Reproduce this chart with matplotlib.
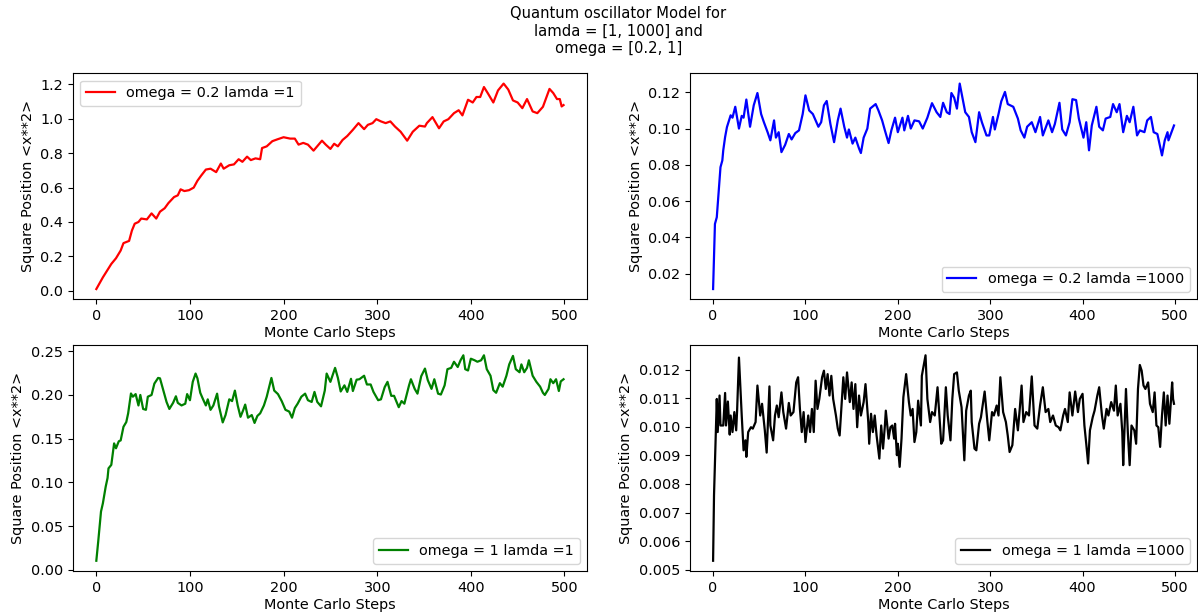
import matplotlib
matplotlib.use("Agg")
import matplotlib.pyplot as plt
from matplotlib.ticker import MultipleLocator

plt.rcParams["font.size"] = 10.4

# values (step, <x**2>)
red_steps = [0, 7, 16, 21, 26, 29, 35, 38, 41, 45, 48, 54, 59, 64, 68, 73, 77, 83, 87, 90,
             94, 99, 104, 108, 112, 117, 122, 128, 133, 136, 142, 147, 152, 156, 161, 165,
             170, 175, 177, 182, 188, 193, 200, 207, 212, 216, 221, 226, 232, 241, 245, 250,
             254, 258, 263, 268, 274, 280, 286, 290, 295, 299, 304, 309, 314, 319, 325, 332,
             338, 345, 351, 353, 359, 366, 371, 376, 382, 387, 391, 397, 402, 406, 410, 414,
             418, 424, 429, 435, 440, 445, 450, 455, 460, 466, 471, 477, 484, 488, 492, 495,
             497, 499]
red_vals = [0.01, 0.078, 0.156, 0.189, 0.234, 0.277, 0.29, 0.35, 0.39, 0.40, 0.42, 0.415,
            0.45, 0.42, 0.46, 0.48, 0.51, 0.545, 0.555, 0.59, 0.58, 0.585, 0.60, 0.64, 0.67,
            0.705, 0.71, 0.69, 0.74, 0.71, 0.73, 0.735, 0.765, 0.75, 0.78, 0.76, 0.77, 0.765,
            0.83, 0.84, 0.87, 0.88, 0.893, 0.885, 0.885, 0.85, 0.86, 0.85, 0.815, 0.873, 0.85,
            0.825, 0.855, 0.84, 0.877, 0.90, 0.936, 0.975, 0.94, 0.965, 0.975, 0.998, 0.985,
            0.975, 0.985, 0.955, 0.925, 0.873, 0.925, 0.96, 0.955, 0.975, 1.01, 0.945, 0.985,
            0.998, 1.033, 1.05, 1.02, 1.111, 1.095, 1.127, 1.127, 1.185, 1.15, 1.095, 1.165,
            1.205, 1.17, 1.107, 1.095, 1.062, 1.115, 1.043, 1.033, 1.07, 1.174, 1.15, 1.115,
            1.115, 1.072, 1.08]

blue_steps = [0, 2, 4, 8, 10, 11, 13, 15, 19, 21, 24, 28, 31, 33, 36, 39, 40, 44, 48, 52,
              55, 59, 62, 66, 68, 71, 74, 78, 82, 85, 89, 93, 97, 100, 104, 108, 111, 114,
              117, 120, 123, 127, 131, 135, 138, 142, 145, 147, 151, 154, 158, 160, 163, 167,
              170, 176, 179, 183, 186, 190, 193, 197, 200, 205, 207, 211, 214, 218, 223, 227,
              232, 237, 242, 246, 249, 253, 256, 258, 261, 264, 267, 270, 273, 277, 280, 284,
              288, 291, 296, 299, 303, 305, 309, 312, 316, 319, 325, 330, 333, 337, 340, 345,
              349, 354, 357, 361, 363, 367, 370, 375, 378, 382, 386, 389, 393, 396, 401, 404,
              407, 410, 415, 418, 422, 425, 430, 433, 437, 440, 444, 448, 451, 455, 459, 462,
              467, 470, 474, 477, 481, 484, 486, 489, 492, 493, 499]
blue_vals = [0.0115, 0.0474, 0.0511, 0.0787, 0.0824, 0.088, 0.0953, 0.1008, 0.1073, 0.106,
             0.112, 0.100, 0.107, 0.106, 0.116, 0.1045, 0.101, 0.1128, 0.1196, 0.108, 0.1035,
             0.098, 0.0935, 0.1045, 0.095, 0.098, 0.087, 0.091, 0.097, 0.094, 0.0975, 0.099,
             0.108, 0.1183, 0.110, 0.108, 0.1045, 0.101, 0.1035, 0.1128, 0.1152, 0.1025,
             0.0925, 0.1045, 0.111, 0.101, 0.095, 0.0995, 0.0917, 0.095, 0.089, 0.0865, 0.095,
             0.100, 0.111, 0.1135, 0.110, 0.1045, 0.099, 0.092, 0.099, 0.106, 0.098, 0.106,
             0.099, 0.107, 0.100, 0.1045, 0.104, 0.100, 0.106, 0.114, 0.109, 0.1064, 0.1142,
             0.109, 0.108, 0.1196, 0.117, 0.111, 0.1248, 0.117, 0.109, 0.1064, 0.098, 0.0925,
             0.109, 0.1035, 0.0962, 0.0962, 0.1064, 0.0995, 0.108, 0.115, 0.1202, 0.1135,
             0.112, 0.1055, 0.099, 0.095, 0.101, 0.1035, 0.098, 0.1064, 0.0962, 0.1017, 0.1045,
             0.098, 0.1025, 0.1142, 0.0995, 0.0962, 0.1035, 0.1162, 0.1157, 0.1055, 0.095,
             0.1035, 0.088, 0.1017, 0.112, 0.101, 0.099, 0.1055, 0.1064, 0.1135, 0.109, 0.1135,
             0.098, 0.107, 0.1035, 0.112, 0.0962, 0.099, 0.098, 0.1045, 0.1064, 0.098, 0.097,
             0.0898, 0.0852, 0.0935, 0.098, 0.0935, 0.1017]

green_steps = [0, 2, 5, 7, 10, 12, 13, 16, 19, 21, 24, 26, 29, 32, 34, 37, 39, 42, 45, 47,
               50, 53, 55, 59, 62, 66, 68, 71, 75, 78, 82, 85, 87, 91, 95, 97, 100, 103, 106,
               108, 111, 114, 117, 119, 122, 125, 129, 131, 135, 138, 142, 145, 148, 151, 154,
               157, 159, 162, 166, 169, 172, 175, 179, 182, 187, 190, 194, 198, 202, 206, 209,
               212, 215, 219, 223, 226, 230, 233, 236, 240, 244, 246, 250, 255, 258, 261, 265,
               268, 272, 274, 278, 281, 286, 289, 293, 296, 301, 304, 308, 311, 315, 318, 323,
               326, 329, 334, 336, 340, 343, 347, 351, 354, 358, 361, 365, 368, 372, 375, 379,
               382, 386, 389, 392, 394, 397, 400, 404, 407, 411, 414, 417, 421, 424, 427, 431,
               434, 438, 441, 445, 448, 452, 454, 457, 460, 462, 466, 470, 474, 477, 479, 483,
               485, 488, 491, 494, 496, 499]
green_vals = [0.0103, 0.032, 0.0666, 0.076, 0.095, 0.105, 0.116, 0.12, 0.1446, 0.139, 0.147,
              0.148, 0.1636, 0.169, 0.179, 0.2017, 0.198, 0.201, 0.188, 0.200, 0.184, 0.183,
              0.198, 0.200, 0.213, 0.2195, 0.219, 0.2074, 0.192, 0.184, 0.191, 0.1985, 0.191,
              0.188, 0.190, 0.201, 0.194, 0.215, 0.2245, 0.219, 0.2025, 0.195, 0.188, 0.195,
              0.183, 0.188, 0.2015, 0.187, 0.1686, 0.177, 0.195, 0.193, 0.205, 0.188, 0.175,
              0.183, 0.189, 0.174, 0.177, 0.168, 0.176, 0.179, 0.188, 0.198, 0.2195, 0.205,
              0.201, 0.193, 0.183, 0.181, 0.174, 0.185, 0.190, 0.198, 0.2015, 0.194, 0.192,
              0.2035, 0.192, 0.187, 0.205, 0.2245, 0.215, 0.231, 0.2195, 0.204, 0.211, 0.2035,
              0.2185, 0.2045, 0.2175, 0.218, 0.222, 0.212, 0.212, 0.2035, 0.194, 0.195, 0.209,
              0.215, 0.199, 0.199, 0.186, 0.193, 0.190, 0.211, 0.218, 0.207, 0.2015, 0.2215,
              0.2302, 0.217, 0.207, 0.218, 0.2015, 0.2005, 0.211, 0.2295, 0.231, 0.238, 0.232,
              0.2397, 0.2454, 0.2295, 0.228, 0.2415, 0.2397, 0.238, 0.2397, 0.2454, 0.2295,
              0.222, 0.2055, 0.2025, 0.2135, 0.2095, 0.222, 0.235, 0.2447, 0.2295, 0.226, 0.235,
              0.226, 0.231, 0.2397, 0.222, 0.215, 0.2095, 0.2025, 0.200, 0.207, 0.218, 0.2135,
              0.218, 0.2045, 0.2155, 0.218]

black_steps = [0, 1, 3, 4, 5, 7, 8, 11, 13, 14, 16, 18, 19, 21, 23, 25, 26, 28, 31, 33, 35,
               36, 38, 41, 43, 46, 48, 51, 53, 56, 58, 61, 62, 65, 67, 69, 71, 74, 76, 79, 82,
               84, 87, 90, 92, 94, 96, 98, 100, 103, 105, 107, 109, 111, 113, 115, 118, 120,
               122, 124, 126, 128, 130, 133, 135, 137, 139, 141, 143, 145, 148, 150, 152, 154,
               156, 158, 160, 163, 165, 168, 169, 171, 173, 175, 177, 180, 182, 184, 186, 187,
               190, 192, 194, 196, 197, 199, 200, 202, 204, 206, 209, 212, 214, 216, 218, 220,
               222, 225, 226, 230, 232, 235, 237, 240, 243, 247, 249, 252, 254, 257, 259, 261,
               264, 266, 269, 272, 274, 277, 279, 280, 283, 285, 288, 290, 294, 297, 299, 302,
               304, 307, 309, 311, 314, 317, 319, 321, 324, 327, 330, 332, 334, 336, 339, 342,
               345, 348, 351, 354, 357, 360, 363, 365, 368, 371, 374, 376, 379, 381, 384, 386,
               389, 392, 395, 397, 400, 402, 404, 406, 408, 411, 413, 416, 418, 421, 423, 426,
               428, 431, 434, 436, 438, 441, 443, 444, 447, 449, 451, 453, 456, 458, 460, 462,
               464, 466, 468, 471, 473, 476, 478, 480, 482, 484, 486, 488, 490, 492, 494, 496,
               497, 498, 499]
black_vals = [0.00531, 0.00761, 0.00994, 0.01098, 0.00982, 0.0111, 0.01005, 0.01005, 0.01119,
              0.01005, 0.01089, 0.00973, 0.0104, 0.00982, 0.01052, 0.00988, 0.01057, 0.01243,
              0.0104, 0.00918, 0.00953, 0.00895, 0.00982, 0.00999, 0.00994, 0.01017, 0.01145,
              0.0104, 0.01081, 0.00988, 0.0091, 0.01142, 0.01005, 0.00953, 0.0104, 0.01075,
              0.01034, 0.01121, 0.01052, 0.00994, 0.01084, 0.0104, 0.01052, 0.01156, 0.01174,
              0.01063, 0.00982, 0.01052, 0.00947, 0.0104, 0.00982, 0.01063, 0.00982, 0.01162,
              0.01063, 0.01098, 0.01174, 0.01197, 0.01133, 0.01185, 0.0111, 0.01179, 0.01098,
              0.0104, 0.00994, 0.0097, 0.01075, 0.01174, 0.01098, 0.01191, 0.01087, 0.01156,
              0.01063, 0.0115, 0.00999, 0.0111, 0.0104, 0.01087, 0.0115, 0.01017, 0.00941,
              0.01046, 0.00982, 0.0104, 0.0097, 0.00889, 0.01005, 0.00924, 0.01005, 0.01057,
              0.00959, 0.00999, 0.01005, 0.00959, 0.01011, 0.00901, 0.00941, 0.0086, 0.00959,
              0.01104, 0.01185, 0.01087, 0.0104, 0.01063, 0.00947, 0.00982, 0.01092, 0.01005,
              0.01179, 0.01251, 0.01098, 0.01017, 0.01052, 0.0104, 0.01139, 0.00941, 0.00953,
              0.01139, 0.0104, 0.00953, 0.01098, 0.01185, 0.01191, 0.01127, 0.01069, 0.00883,
              0.01057, 0.0111, 0.01127, 0.01017, 0.00924, 0.00918, 0.01011, 0.01034, 0.01124,
              0.01017, 0.00953, 0.01052, 0.0104, 0.01075, 0.0104, 0.01174, 0.01052, 0.01017,
              0.0097, 0.00912, 0.00936, 0.01063, 0.00988, 0.01063, 0.01145, 0.01017, 0.01052,
              0.0104, 0.01177, 0.01005, 0.00994, 0.01075, 0.01139, 0.01052, 0.01063, 0.01017,
              0.0104, 0.01005, 0.00999, 0.00988, 0.0104, 0.01063, 0.01017, 0.01121, 0.0104,
              0.01124, 0.01052, 0.01098, 0.01116, 0.01005, 0.00941, 0.00872, 0.00988, 0.01034,
              0.01057, 0.0111, 0.01139, 0.0104, 0.00994, 0.01063, 0.0104, 0.01087, 0.01057,
              0.01145, 0.0104, 0.01081, 0.00982, 0.00866, 0.01133, 0.00982, 0.00866, 0.01005,
              0.00988, 0.00941, 0.01133, 0.01217, 0.01197, 0.01145, 0.01133, 0.01156, 0.01081,
              0.01052, 0.01121, 0.01005, 0.00999, 0.0093, 0.0104, 0.01121, 0.01005, 0.0111,
              0.01011, 0.01104, 0.01156, 0.01098, 0.01081]

series = [
    (red_steps, red_vals, "r", "omega = 0.2 lamda =1", "upper left", 0.2),
    (blue_steps, blue_vals, "b", "omega = 0.2 lamda =1000", "lower right", 0.02),
    (green_steps, green_vals, "g", "omega = 1 lamda =1", "lower right", 0.05),
    (black_steps, black_vals, "k", "omega = 1 lamda =1000", "lower right", 0.001),
]

# axes rectangles in figure fractions (left, bottom, width, height)
rects = [
    (0.0609, 0.5133, 0.4290, 0.3675),
    (0.5760, 0.5133, 0.4232, 0.3675),
    (0.0609, 0.0715, 0.4290, 0.3675),
    (0.5760, 0.0715, 0.4232, 0.3675),
]

fig = plt.figure(figsize=(11.98, 6.15), dpi=100)
fig.suptitle("Quantum oscillator Model for\nlamda = [1, 1000] and\nomega = [0.2, 1]",
             x=0.516, y=0.99, fontsize=10.6, va="top")

for (xs, ys, color, label, loc, ystep), rect in zip(series, rects):
    ax = fig.add_axes(rect)
    ax.plot(xs, ys, color=color, lw=1.6, label=label)
    ax.yaxis.set_major_locator(MultipleLocator(ystep))
    ax.set_xlabel("Monte Carlo Steps", labelpad=2)
    ax.set_ylabel("Square Position <x**2>")
    ax.legend(loc=loc)

fig.savefig("out.png", dpi=100)
